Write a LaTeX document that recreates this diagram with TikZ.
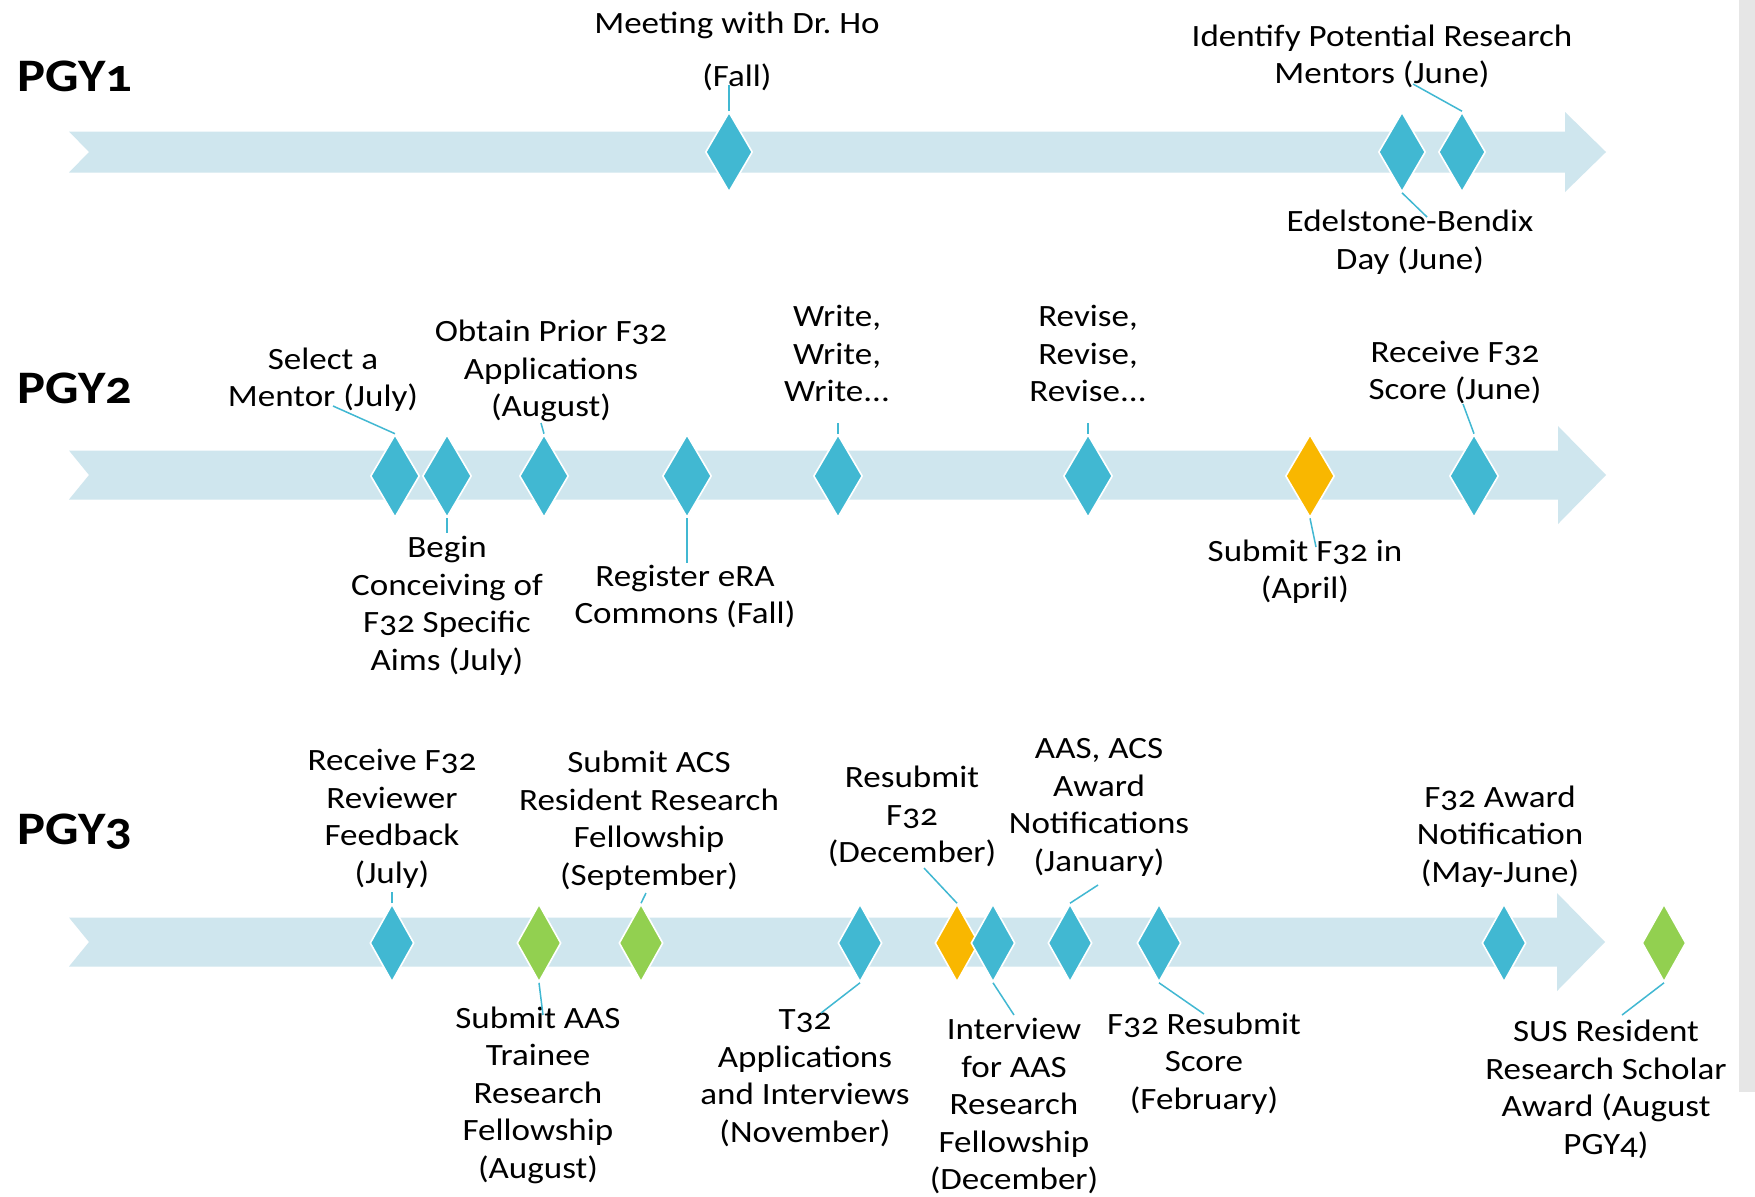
\documentclass[tikz,border=0pt]{standalone}
\usepackage{fontspec}
\setmainfont{Carlito}[Numbers=OldStyle, FakeStretch=1.13]
\usetikzlibrary{shapes.geometric}
\definecolor{bandblue}{HTML}{CFE6EE}
\definecolor{dblue}{HTML}{41B8D2}
\definecolor{dorange}{HTML}{F9B700}
\definecolor{dgreen}{HTML}{92D050}
\definecolor{sidegrey}{HTML}{E6E6E6}
\frenchspacing
\tikzset{
  bandshape/.style={fill=bandblue, draw=none},
  dmd/.style={diamond, inner sep=0pt, draw=white, line width=0.8pt},
  rowone/.style={dmd, minimum width=23.5pt, minimum height=40pt},
  rowtwo/.style={dmd, minimum width=24.5pt, minimum height=41.5pt},
  rowthree/.style={dmd, minimum width=22pt, minimum height=39pt},
  blu/.style={fill=dblue},
  org/.style={fill=dorange},
  grn/.style={fill=dgreen},
  lbl/.style={align=center, font=\fontsize{15.5}{18.75}\selectfont, inner sep=0pt, yshift=-1.5pt},
  yearlbl/.style={anchor=west, inner sep=0pt, font=\fontsize{23.3}{28}\selectfont\bfseries},
  conn/.style={draw=dblue, line width=0.75pt}
}
\begin{document}
\begin{tikzpicture}[x=0.5pt,y=-0.5pt]
\useasboundingbox (0,0) rectangle (1755,1196);
\fill[white] (0,0) rectangle (1755,1196);
\fill[sidegrey] (1739,0) rectangle (1755,1092);

% ---------- PGY1 ----------
\path[bandshape] (69,131.5) -- (1565,131.5) -- (1565,112) -- (1606,152) -- (1565,192) -- (1565,172.5) -- (69,172.5) -- (89,152) -- cycle;
\node[yearlbl] (pgy1) at (17,76) {PGY1};
\node[rowone,blu] (m1) at (729,152) {};
\node[rowone,blu] (m2) at (1402,152) {};
\node[rowone,blu] (m3) at (1462,152) {};
\node[lbl] (l1) at (737,48.5) {Meeting with Dr. Ho\\[7.75pt](Fall)};
\node[lbl] (l2) at (1382,53.5) {Identify Potential Research\\Mentors (June)};
\node[lbl] (l3) at (1410,239) {Edelstone-Bendix\\Day (June)};
\coordinate (c1) at (729,85);
\coordinate (c2) at (1413,84);
\coordinate (c3) at (1427,217);
\draw[conn] (m1.north) -- (c1);
\draw[conn] (m3.north) -- (c2);
\draw[conn] (m2.south) -- (c3);

% ---------- PGY2 ----------
\path[bandshape] (69,450.5) -- (1558,450.5) -- (1558,426) -- (1606,475) -- (1558,524) -- (1558,499.5) -- (69,499.5) -- (89,475) -- cycle;
\node[yearlbl] (pgy2) at (17,388) {PGY2};
\node[rowtwo,blu] (a) at (395,476) {};
\node[rowtwo,blu] (b) at (447,476) {};
\node[rowtwo,blu] (c) at (544,476) {};
\node[rowtwo,blu] (d) at (687,476) {};
\node[rowtwo,blu] (e) at (838,476) {};
\node[rowtwo,blu] (f) at (1088,476) {};
\node[rowtwo,org] (g) at (1310,476) {};
\node[rowtwo,blu] (h) at (1474,476) {};
\node[lbl] (la) at (323,376.5) {Select a\\Mentor (July)};
\node[lbl] (lb) at (447,603) {Begin\\Conceiving of\\F32 Specific\\Aims (July)};
\node[lbl] (lc) at (551,368) {Obtain Prior F32\\Applications\\(August)};
\node[lbl] (ld) at (685,593.5) {Register eRA\\Commons (Fall)};
\node[lbl] (le) at (837,350.5) {Write,\\Write,\\Write...};
\node[lbl] (lf) at (1088,350.5) {Revise,\\Revise,\\Revise...};
\node[lbl] (lg) at (1305,568.5) {Submit F32 in\\(April)};
\node[lbl] (lh) at (1455,369.5) {Receive F32\\Score (June)};
\coordinate (ca) at (333,406);
\coordinate (cb) at (447,533);
\coordinate (cc) at (541,423);
\coordinate (cd) at (687,563);
\coordinate (ce) at (838,423);
\coordinate (cf) at (1088,423);
\coordinate (cg) at (1316,547);
\coordinate (ch) at (1463,404);
\draw[conn] (a.north) -- (ca);
\draw[conn] (b.south) -- (cb);
\draw[conn] (c.north) -- (cc);
\draw[conn] (d.south) -- (cd);
\draw[conn] (e.north) -- (ce);
\draw[conn] (f.north) -- (cf);
\draw[conn] (g.south) -- (cg);
\draw[conn] (h.north) -- (ch);

% ---------- PGY3 ----------
\path[bandshape] (69,917.5) -- (1557,917.5) -- (1557,893) -- (1605,942) -- (1557,991) -- (1557,966.5) -- (69,966.5) -- (89,942) -- cycle;
\node[yearlbl] (pgy3) at (17,832) {PGY3};
\node[rowthree,blu] (p) at (392,943) {};
\node[rowthree,grn] (q) at (539,943) {};
\node[rowthree,grn] (r) at (641,943) {};
\node[rowthree,blu] (s) at (860,943) {};
\node[rowthree,org] (t) at (957,943) {};
\node[rowthree,blu] (u) at (993,943) {};
\node[rowthree,blu] (v) at (1070,943) {};
\node[rowthree,blu] (w) at (1159,943) {};
\node[rowthree,blu] (xx) at (1504,943) {};
\node[rowthree,grn] (yy) at (1664,943) {};
\node[lbl] (lp) at (392,816) {Receive F32\\Reviewer\\Feedback\\(July)};
\node[lbl] (lr) at (649,817.5) {Submit ACS\\Resident Research\\Fellowship\\(September)};
\node[lbl] (lq) at (538,1092) {Submit AAS\\Trainee\\Research\\Fellowship\\(August)};
\node[lbl] (ls) at (805,1075) {T32\\Applications\\and Interviews\\(November)};
\node[lbl] (lt) at (912,813.5) {Resubmit\\F32\\(December)};
\node[lbl] (lu) at (1014,1103) {Interview\\for AAS\\Research\\Fellowship\\(December)};
\node[lbl] (lv) at (1099,804.5) {AAS, ACS\\Award\\Notifications\\(January)};
\node[lbl] (lw) at (1204,1060.5) {F32 Resubmit\\Score\\(February)};
\node[lbl] (lx) at (1500,833.5) {F32 Award\\Notification\\(May-June)};
\node[lbl] (ly) at (1606,1086.5) {SUS Resident\\Research Scholar\\Award (August\\PGY4)};
\coordinate (cp) at (392,892);
\coordinate (cr) at (646,893);
\coordinate (cq) at (543,1015);
\coordinate (cs) at (821,1013);
\coordinate (ct) at (924,868);
\coordinate (cu) at (1014,1015);
\coordinate (cv) at (1098,885);
\coordinate (cw) at (1204,1014);
\coordinate (cy) at (1622,1015);
\draw[conn] (p.north) -- (cp);
\draw[conn] (r.north) -- (cr);
\draw[conn] (q.south) -- (cq);
\draw[conn] (s.south) -- (cs);
\draw[conn] (t.north) -- (ct);
\draw[conn] (u.south) -- (cu);
\draw[conn] (v.north) -- (cv);
\draw[conn] (w.south) -- (cw);
\draw[conn] (yy.south) -- (cy);
\end{tikzpicture}
\end{document}
